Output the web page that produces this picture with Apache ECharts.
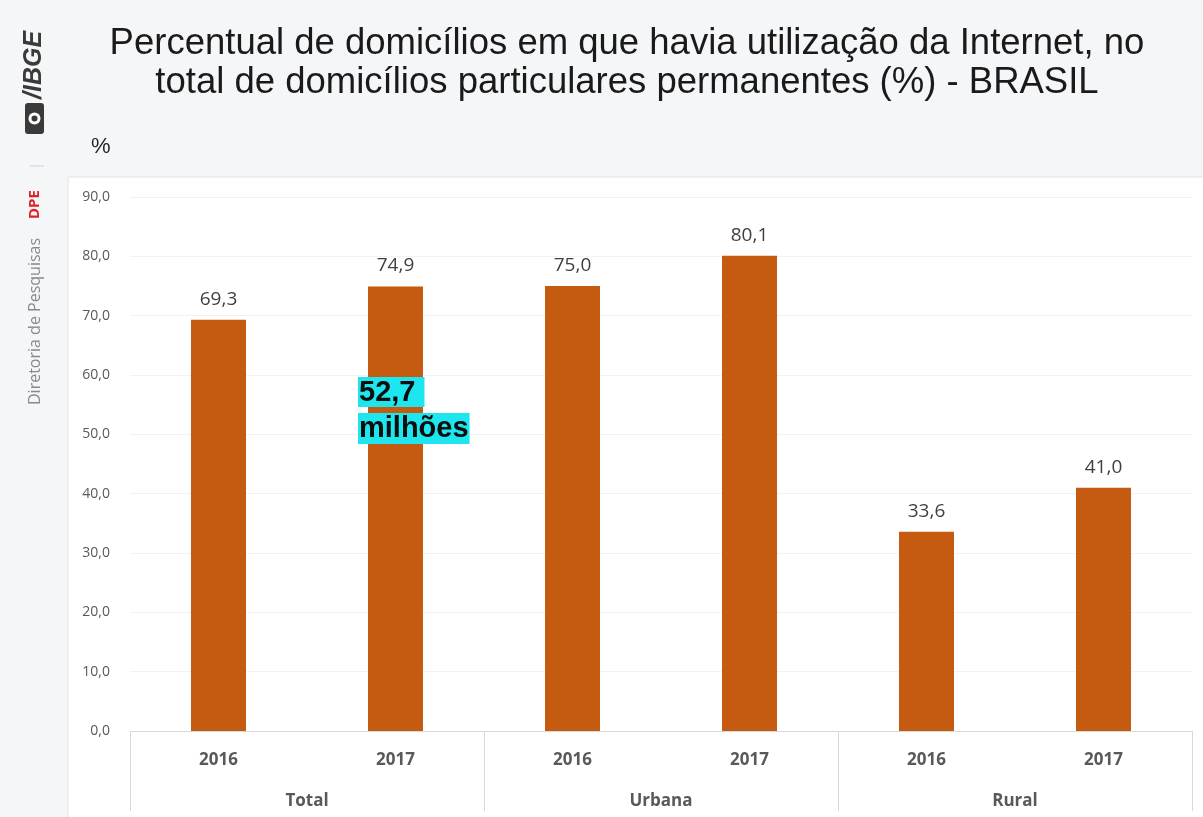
<!DOCTYPE html>
<html>
<head>
<meta charset="utf-8">
<script src="https://cdn.jsdelivr.net/npm/echarts@6/dist/echarts.min.js"></script>
<style>
  html, body { margin: 0; padding: 0; background: #f5f6f8; }
  #chart { width: 1203px; height: 817px; }
</style>
</head>
<body>
<div id="chart"></div>
<script>
// Internet use in permanent private households, Brazil
const years = ['2016', '2017', '2016', '2017', '2016', '2017'];
const groups = ['Total', 'Urbana', 'Rural'];
const values = [69.3, 74.9, 75.0, 80.1, 33.6, 41.0];
const yTicks = [0, 10, 20, 30, 40, 50, 60, 70, 80, 90];
const householdsNote = ['52,7 ', 'milhões'];

const fmt = v => v.toFixed(1).replace('.', ',');

const chart = echarts.init(document.getElementById('chart'), null, { renderer: 'canvas' });

chart.setOption({
  backgroundColor: '#f5f6f8',
  animation: false,
  grid: { left: 130, right: 11, top: 197, bottom: 86 },
  xAxis: [
    {
      type: 'category',
      data: years,
      position: 'bottom',
      axisLine: { show: true, lineStyle: { color: '#d9d9d9', width: 1 } },
      axisTick: { show: false },
      axisLabel: { margin: 21, color: '#595959', fontSize: 17, fontWeight: 'bold', fontFamily: 'Open Sans' }
    },
    {
      type: 'category',
      data: groups,
      position: 'bottom',
      axisLine: { show: false },
      axisTick: { show: true, alignWithLabel: false, length: 80, lineStyle: { color: '#d9d9d9', width: 1 } },
      axisLabel: { margin: 62, color: '#595959', fontSize: 17, fontWeight: 'bold', fontFamily: 'Open Sans' }
    }
  ],
  yAxis: {
    type: 'value',
    min: yTicks[0],
    max: yTicks[yTicks.length - 1],
    interval: 10,
    axisLine: { show: false },
    axisTick: { show: false },
    splitLine: { show: true, lineStyle: { color: '#f2f2f2', width: 1 } },
    axisLabel: { margin: 20, color: '#595959', fontSize: 14, fontFamily: 'Open Sans', formatter: v => fmt(v) }
  },
  series: [{
    type: 'bar',
    data: values,
    xAxisIndex: 0,
    barWidth: 55,
    itemStyle: { color: '#c55a11' },
    label: {
      show: true,
      position: 'top',
      distance: 11,
      color: '#404040',
      fontSize: 19,
      fontFamily: 'Open Sans',
      formatter: p => fmt(p.value)
    }
  }],
  graphic: [
    // white chart panel
    { type: 'rect', z: -10, shape: { x: 68, y: 177, width: 1140, height: 650 },
      style: { fill: '#ffffff', stroke: '#e3e3e3', lineWidth: 1 } },
    // title
    { type: 'text', x: 627, y: 24, z: 5,
      style: { text: 'Percentual de domicílios em que havia utilização da Internet, no\ntotal de domicílios particulares permanentes (%) - BRASIL',
        fill: '#1a1a1a', font: '36.5px "Liberation Sans", Arial, sans-serif', textAlign: 'center', lineHeight: 39 } },
    // unit
    { type: 'text', x: 91, y: 136, style: { text: '%', fill: '#262626', font: '22px "Liberation Sans", Arial, sans-serif' } },
    // sidebar: logo and department
    { type: 'text', x: 22, y: 99, rotation: Math.PI / 2,
      style: { text: '/IBGE', fill: '#3a3a3a', font: 'italic bold 25px "Liberation Sans", Arial, sans-serif' } },
    { type: 'rect', shape: { x: 25, y: 103, width: 19, height: 31, r: 3 },
      style: { fill: '#3a3a3a' } },
    { type: 'circle', shape: { cx: 34.5, cy: 118.5, r: 6 }, style: { fill: '#ffffff' } },
    { type: 'circle', shape: { cx: 34.5, cy: 118.5, r: 3 }, style: { fill: '#3a3a3a' } },
    { type: 'line', shape: { x1: 30, y1: 166, x2: 44, y2: 166 }, style: { stroke: '#d0d0d0', lineWidth: 1 } },
    { type: 'text', x: 27, y: 219, rotation: Math.PI / 2,
      style: { text: 'DPE', fill: '#d9252a', font: 'bold 15px "Open Sans", sans-serif' } },
    { type: 'text', x: 27, y: 405, rotation: Math.PI / 2,
      style: { text: 'Diretoria de Pesquisas', fill: '#8a8a8a', font: '16px "Open Sans", sans-serif' } },
    // household count note
    { type: 'text', x: 358, y: 377, z: 10,
      style: { text: householdsNote[0], fill: '#0d0d0d', font: 'bold 29px "Liberation Sans", Arial, sans-serif',
        backgroundColor: '#1ee6ee', padding: [1, 1, 0, 1] } },
    { type: 'text', x: 358, y: 413, z: 10,
      style: { text: householdsNote[1], fill: '#0d0d0d', font: 'bold 29px "Liberation Sans", Arial, sans-serif',
        backgroundColor: '#1ee6ee', padding: [1, 1, 1, 1] } }
  ]
});
</script>
</body>
</html>
